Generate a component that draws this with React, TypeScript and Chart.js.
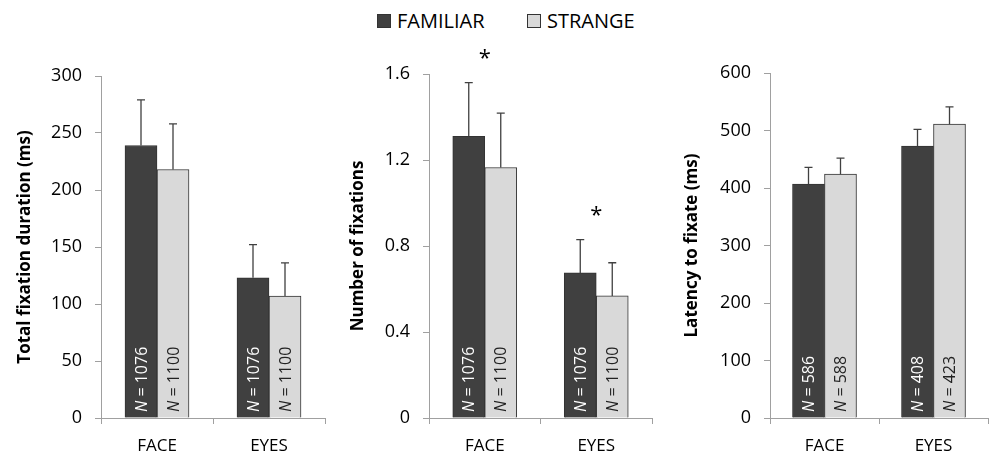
import React, { useEffect, useRef } from "react";
import { Chart, registerables } from "chart.js";
Chart.register(...registerables);

const categories = ["FACE", "EYES"];
const seriesNames = ["FAMILIAR", "STRANGE"];

const durFamiliar = [239, 123];
const durStrange = [218, 107];
const durFamiliarErr = [40, 29];
const durStrangeErr = [40, 29];
const durFamiliarN = [1076, 1076];
const durStrangeN = [1100, 1100];
const durSignificant = [false, false];

const numFamiliar = [1.31, 0.675];
const numStrange = [1.165, 0.568];
const numFamiliarErr = [0.25, 0.155];
const numStrangeErr = [0.253, 0.154];
const numFamiliarN = [1076, 1076];
const numStrangeN = [1100, 1100];
const numSignificant = [true, true];

const latFamiliar = [407, 473];
const latStrange = [424, 511];
const latFamiliarErr = [29, 29];
const latStrangeErr = [28, 30];
const latFamiliarN = [586, 408];
const latStrangeN = [588, 423];
const latSignificant = [false, false];

const FONT = "'Open Sans', sans-serif";
const DARK = "#404040";
const LIGHT = "#d9d9d9";
const EDGE = "#333333";
const AXIS = "#a0a0a0";
const TEXT = "#000000";

type PanelProps = {
  left: number;
  top: number;
  width: number;
  height: number;
  yWidth: number;
  xHeight: number;
  padTop: number;
  padRight: number;
  titlePad: number;
  title: string;
  max: number;
  step: number;
  decimals: number;
  familiar: number[];
  strange: number[];
  familiarErr: number[];
  strangeErr: number[];
  familiarN: number[];
  strangeN: number[];
  significant: boolean[];
};

const overlayPlugin = {
  id: "overlay",
  afterDatasetsDraw(chart: any) {
    const ctx = chart.ctx;
    const yScale = chart.scales.y;
    const area = chart.chartArea;
    const extra = chart.options.plugins.overlay;
    const tops: number[] = [];
    chart.data.datasets.forEach((ds: any, di: number) => {
      const meta = chart.getDatasetMeta(di);
      const errs = extra.errors[di];
      const ns = extra.ns[di];
      meta.data.forEach((bar: any, i: number) => {
        const v = ds.data[i];
        const yTop = yScale.getPixelForValue(v + errs[i]);
        const yBar = yScale.getPixelForValue(v);
        tops[i] = tops[i] === undefined ? yTop : Math.min(tops[i], yTop);
        ctx.save();
        ctx.strokeStyle = "#404040";
        ctx.lineWidth = 1.3;
        ctx.beginPath();
        ctx.moveTo(bar.x, yBar);
        ctx.lineTo(bar.x, yTop);
        ctx.moveTo(bar.x - 4, yTop);
        ctx.lineTo(bar.x + 4, yTop);
        ctx.stroke();
        ctx.restore();

        ctx.save();
        ctx.translate(bar.x, area.bottom - 6);
        ctx.rotate(-Math.PI / 2);
        ctx.textAlign = "left";
        ctx.textBaseline = "middle";
        ctx.fillStyle = di === 0 ? "#ffffff" : "#222222";
        ctx.font = `italic 16px ${FONT}`;
        ctx.fillText("N", 0, 1);
        const w = ctx.measureText("N").width;
        ctx.font = `16px ${FONT}`;
        ctx.fillText(` = ${ns[i]}`, w, 1);
        ctx.restore();
      });
    });
    const xScale = chart.scales.x;
    extra.significant.forEach((s: boolean, i: number) => {
      if (!s) return;
      ctx.save();
      ctx.fillStyle = TEXT;
      ctx.font = `22px ${FONT}`;
      ctx.textAlign = "center";
      ctx.textBaseline = "middle";
      ctx.fillText("*", xScale.getPixelForValue(i), tops[i] - 24);
      ctx.restore();
    });
  },
};

function Panel(p: PanelProps) {
  const ref = useRef<HTMLCanvasElement>(null);
  useEffect(() => {
    const chart = new Chart(ref.current as HTMLCanvasElement, {
      type: "bar",
      data: {
        labels: categories,
        datasets: [
          {
            label: seriesNames[0],
            data: p.familiar,
            backgroundColor: DARK,
            borderColor: EDGE,
            borderWidth: 1,
            barThickness: 32,
          },
          {
            label: seriesNames[1],
            data: p.strange,
            backgroundColor: LIGHT,
            borderColor: EDGE,
            borderWidth: 1,
            barThickness: 32,
          },
        ],
      },
      options: {
        responsive: false,
        animation: false,
        layout: { padding: { top: p.padTop, right: p.padRight, left: 0, bottom: 0 } },
        plugins: {
          legend: { display: false },
          tooltip: { enabled: false },
          overlay: {
            errors: [p.familiarErr, p.strangeErr],
            ns: [p.familiarN, p.strangeN],
            significant: p.significant,
          },
        } as any,
        scales: {
          x: {
            grid: { display: true, drawOnChartArea: false, drawTicks: true, tickLength: 6, color: AXIS, offset: true },
            border: { display: true, color: AXIS },
            ticks: { color: TEXT, font: { family: FONT, size: 17 }, padding: 12 },
            afterFit: (s: any) => {
              s.height = p.xHeight;
            },
          },
          y: {
            min: 0,
            max: p.max,
            ticks: {
              stepSize: p.step,
              color: TEXT,
              font: { family: FONT, size: 18 },
              padding: 13,
              callback: (v: any) => (Number(v) === 0 ? "0" : Number(v).toFixed(p.decimals)),
            },
            grid: { display: true, drawOnChartArea: false, drawTicks: true, tickLength: 6, color: AXIS },
            border: { display: true, color: AXIS },
            title: {
              display: true,
              text: p.title,
              color: TEXT,
              font: { family: FONT, size: 17, weight: "bold" },
              padding: { top: p.titlePad, bottom: 0 },
            },
            afterFit: (s: any) => {
              s.width = p.yWidth;
            },
          },
        },
      },
      plugins: [overlayPlugin],
    });
    return () => chart.destroy();
  }, []);
  return (
    <canvas
      ref={ref}
      width={p.width}
      height={p.height}
      style={{ position: "absolute", left: p.left, top: p.top, width: p.width, height: p.height }}
    />
  );
}

function LegendItem({ x, color, label }: { x: number; color: string; label: string }) {
  return (
    <div style={{ position: "absolute", left: x, top: 7, display: "flex", alignItems: "center", fontFamily: FONT, fontSize: 20, color: TEXT }}>
      <span style={{ display: "inline-block", width: 12, height: 12, background: color, border: `1px solid ${EDGE}`, marginRight: 6 }} />
      <span>{label}</span>
    </div>
  );
}

export default function App() {
  useEffect(() => {
    document.body.style.margin = "0";
  }, []);
  return (
    <div style={{ position: "relative", width: 990, height: 455, background: "#fff", overflow: "hidden" }}>
      <LegendItem x={377} color={DARK} label={seriesNames[0]} />
      <LegendItem x={527} color={LIGHT} label={seriesNames[1]} />
      <Panel
        left={0} top={40} width={335} height={415} yWidth={101} xHeight={37} padTop={36} padRight={10} titlePad={15}
        title="Total fixation duration (ms)" max={300} step={50} decimals={0}
        familiar={durFamiliar} strange={durStrange} familiarErr={durFamiliarErr} strangeErr={durStrangeErr}
        familiarN={durFamiliarN} strangeN={durStrangeN} significant={durSignificant}
      />
      <Panel
        left={330} top={40} width={330} height={415} yWidth={99} xHeight={37} padTop={34} padRight={8} titlePad={18}
        title="Number of fixations" max={1.6} step={0.4} decimals={1}
        familiar={numFamiliar} strange={numStrange} familiarErr={numFamiliarErr} strangeErr={numStrangeErr}
        familiarN={numFamiliarN} strangeN={numStrangeN} significant={numSignificant}
      />
      <Panel
        left={660} top={40} width={330} height={415} yWidth={110} xHeight={37} padTop={33} padRight={2} titlePad={22}
        title="Latency to fixate (ms)" max={600} step={100} decimals={0}
        familiar={latFamiliar} strange={latStrange} familiarErr={latFamiliarErr} strangeErr={latStrangeErr}
        familiarN={latFamiliarN} strangeN={latStrangeN} significant={latSignificant}
      />
    </div>
  );
}
